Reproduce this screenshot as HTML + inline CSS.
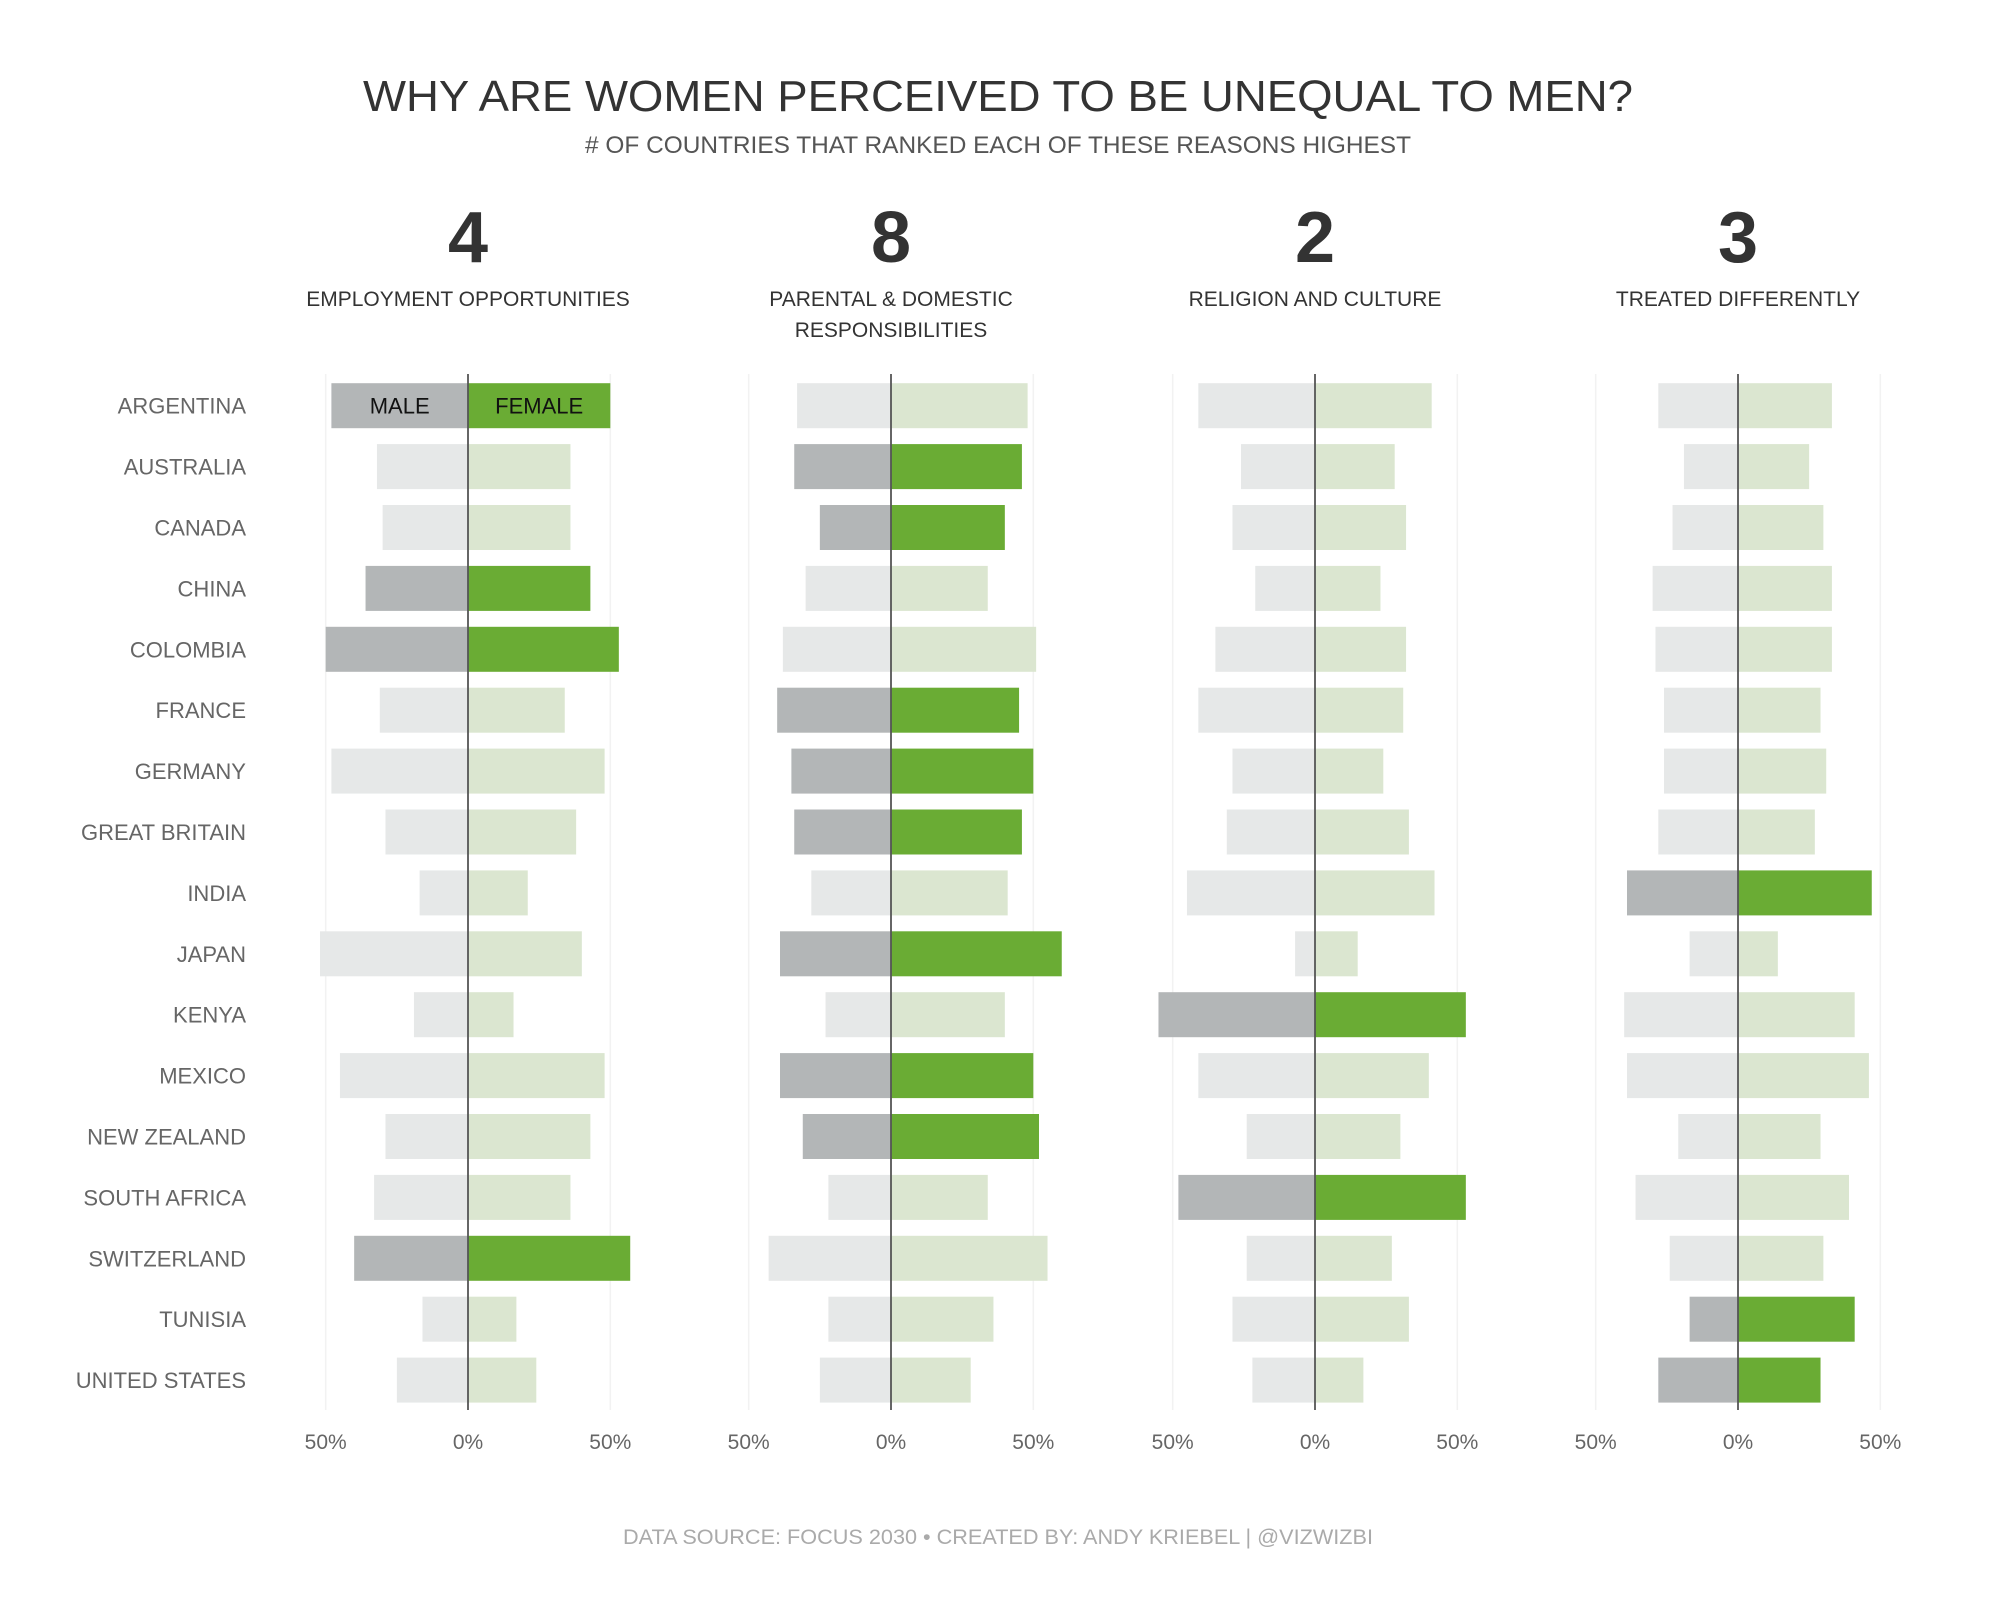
<!DOCTYPE html>
<html><head><meta charset="utf-8">
<style>
html,body{margin:0;padding:0;background:#fff;}
svg{display:block;font-family:"Liberation Sans",sans-serif;}
</style></head>
<body>
<svg id="chart" width="2000" height="1600" viewBox="0 0 2000 1600" xmlns="http://www.w3.org/2000/svg">
<text x="998" y="111" text-anchor="middle" font-size="44" fill="#333" textLength="1270" lengthAdjust="spacingAndGlyphs">WHY ARE WOMEN PERCEIVED TO BE UNEQUAL TO MEN?</text>
<text x="998" y="153" text-anchor="middle" font-size="24" fill="#555" textLength="826" lengthAdjust="spacingAndGlyphs"># OF COUNTRIES THAT RANKED EACH OF THESE REASONS HIGHEST</text>
<text x="998" y="1544" text-anchor="middle" font-size="21" fill="#aaa" textLength="750" lengthAdjust="spacingAndGlyphs">DATA SOURCE: FOCUS 2030 • CREATED BY: ANDY KRIEBEL | @VIZWIZBI</text>
<g id="plot"></g>
</svg>
<script>
const countries = ["ARGENTINA","AUSTRALIA","CANADA","CHINA","COLOMBIA","FRANCE","GERMANY","GREAT BRITAIN","INDIA","JAPAN","KENYA","MEXICO","NEW ZEALAND","SOUTH AFRICA","SWITZERLAND","TUNISIA","UNITED STATES"];
const reasons = [["EMPLOYMENT OPPORTUNITIES"],["PARENTAL & DOMESTIC","RESPONSIBILITIES"],["RELIGION AND CULTURE"],["TREATED DIFFERENTLY"]];
const counts = [4,8,2,3];
const male1 = [48,32,30,36,50,31,48,29,17,52,19,45,29,33,40,16,25];
const female1 = [50,36,36,43,53,34,48,38,21,40,16,48,43,36,57,17,24];
const hl1 = [0,3,4,14];
const male2 = [33,34,25,30,38,40,35,34,28,39,23,39,31,22,43,22,25];
const female2 = [48,46,40,34,51,45,50,46,41,60,40,50,52,34,55,36,28];
const hl2 = [1,2,5,6,7,9,11,12];
const male3 = [41,26,29,21,35,41,29,31,45,7,55,41,24,48,24,29,22];
const female3 = [41,28,32,23,32,31,24,33,42,15,53,40,30,53,27,33,17];
const hl3 = [10,13];
const male4 = [28,19,23,30,29,26,26,28,39,17,40,39,21,36,24,17,28];
const female4 = [33,25,30,33,33,29,31,27,47,14,41,46,29,39,30,41,29];
const hl4 = [8,15,16];
const tickLabels = ["50%","0%","50%"];
const tickValues = [-50,0,50];

const males=[male1,male2,male3,male4], females=[female1,female2,female3,female4], hls=[hl1,hl2,hl3,hl4];
const NS="http://www.w3.org/2000/svg";
const plot=document.getElementById('plot');
const zeros=[468,891,1315,1738];
const pxPerPct=142.3/50;
const rowY0=405.7, rowStep=60.9, barH=45;
const axTop=374, axBot=1410;
function xScale(p,v){return zeros[p]+v*pxPerPct;}
function yScale(i){return rowY0+i*rowStep;}
function mk(tag,attrs,parent){const e=document.createElementNS(NS,tag);for(const k in attrs)e.setAttribute(k,attrs[k]);(parent||plot).appendChild(e);return e;}

countries.forEach((c,i)=>{
  const t=mk('text',{x:246,y:yScale(i)+8,'text-anchor':'end','font-size':22,fill:'#666'});
  
  
  t.textContent=c;
});

for(let p=0;p<4;p++){
  const g=mk('g',{});
  
  
  const cx=zeros[p];
  const n=mk('text',{x:cx,y:262,'text-anchor':'middle','font-size':72,'font-weight':'bold',fill:'#333'},g);
  
  
  n.textContent=counts[p];
  reasons[p].forEach((line,k)=>{
    const t=mk('text',{x:cx,y:306+k*31,'text-anchor':'middle','font-size':21,fill:'#333'},g);
    
    
    t.textContent=line;
  });
  tickValues.forEach((v,k)=>{
    if(v!==0){
      const gl=mk('line',{x1:xScale(p,v),x2:xScale(p,v),y1:axTop,y2:axBot,stroke:'#f2f2f2','stroke-width':1.5},g);
      
      
    }
    const t=mk('text',{x:xScale(p,v),y:1462,'text-anchor':'middle','font-size':21,fill:'#666'},g);
    t.setAttribute('y',1449);
    
    
    t.textContent=tickLabels[k];
  });
  countries.forEach((c,i)=>{
    const on=hls[p].includes(i);
    const m=males[p][i], f=females[p][i];
    const y=yScale(i)-barH/2;
    const rm=mk('rect',{x:xScale(p,-m),y:y,width:xScale(p,0)-xScale(p,-m),height:barH,fill:on?'#b3b6b7':'#e6e8e8'},g);
    
    
    const rf=mk('rect',{x:xScale(p,0),y:y,width:xScale(p,f)-xScale(p,0),height:barH,fill:on?'#6aac34':'#dbe6d0'},g);
    
    
  });
  const zl=mk('line',{x1:cx,x2:cx,y1:axTop,y2:axBot,stroke:'#555','stroke-width':1.8},g);
  
  
}
const lm=mk('text',{x:xScale(0,-male1[0]/2),y:yScale(0)+8,'text-anchor':'middle','font-size':22,fill:'#111'});


lm.textContent='MALE';
const lf=mk('text',{x:xScale(0,female1[0]/2),y:yScale(0)+8,'text-anchor':'middle','font-size':22,fill:'#111'});


lf.textContent='FEMALE';
</script>
</body></html>
